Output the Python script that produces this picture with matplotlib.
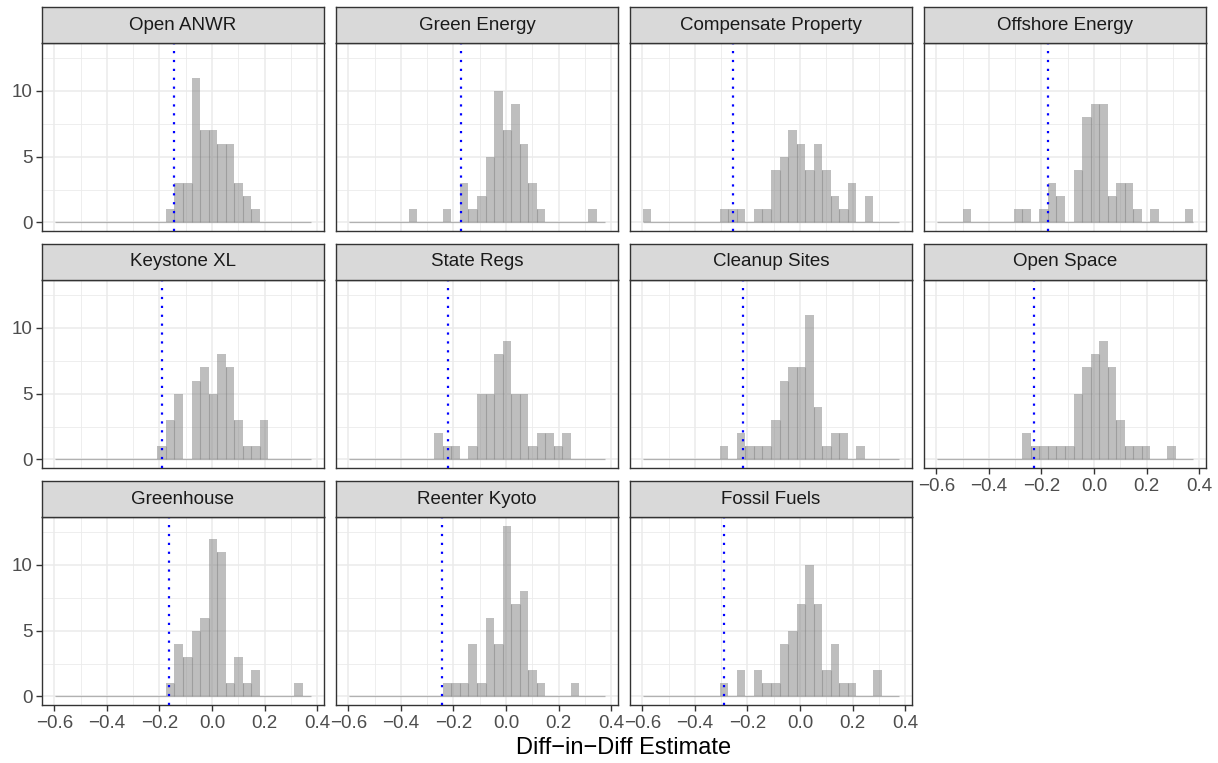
import matplotlib
matplotlib.use("Agg")
import matplotlib.pyplot as plt
import numpy as np

plt.rcParams['font.family'] = ['Liberation Sans', 'DejaVu Sans']

# ---------------- data ----------------
facets = ["Open ANWR", "Green Energy", "Compensate Property", "Offshore Energy",
          "Keystone XL", "State Regs", "Cleanup Sites", "Open Space",
          "Greenhouse", "Reenter Kyoto", "Fossil Fuels"]

bin_start = -0.598
bin_width = 0.0325
n_bins = 30

counts_open_anwr = [0,0,0,0,0,0,0,0,0,0, 0,0,0,1,3,3,11,7,7,6, 6,3,2,1,0,0,0,0,0,0]
counts_green_energy = [0,0,0,0,0,0,0,1,0,0, 0,1,0,3,1,2,5,10,7,9, 6,3,1,0,0,0,0,0,1,0]
counts_compensate = [1,0,0,0,0,0,0,0,0,1, 1,1,0,1,1,4,5,7,6,4, 6,4,2,1,3,0,2,0,0,0]
counts_offshore = [0,0,0,1,0,0,0,0,0,1, 1,0,1,3,2,0,4,8,9,9, 2,3,3,1,0,1,0,0,0,1]
counts_keystone = [0,0,0,0,0,0,0,0,0,0, 0,0,1,3,5,0,6,7,5,8, 7,3,1,1,3,0,0,0,0,0]
counts_state_regs = [0,0,0,0,0,0,0,0,0,0, 2,1,1,0,1,5,5,8,9,5, 5,1,2,2,1,2,0,0,0,0]
counts_cleanup = [0,0,0,0,0,0,0,0,0,1, 0,2,1,1,1,3,6,7,7,11, 4,1,2,2,0,1,0,0,0,0]
counts_open_space = [0,0,0,0,0,0,0,0,0,0, 2,1,1,1,1,1,5,7,8,9, 7,3,1,1,1,0,0,1,0,0]
counts_greenhouse = [0,0,0,0,0,0,0,0,0,0, 0,0,0,1,4,3,5,6,12,11, 1,3,1,2,0,0,0,0,1,0]
counts_kyoto = [0,0,0,0,0,0,0,0,0,0, 0,1,1,1,4,1,6,4,13,7, 8,2,1,0,0,0,1,0,0,0]
counts_fossil = [0,0,0,0,0,0,0,0,0,1, 0,2,0,2,1,1,4,5,7,10, 7,2,4,1,1,0,0,2,0,0]

all_counts = [counts_open_anwr, counts_green_energy, counts_compensate, counts_offshore,
              counts_keystone, counts_state_regs, counts_cleanup, counts_open_space,
              counts_greenhouse, counts_kyoto, counts_fossil]

observed = [-0.145, -0.171, -0.256, -0.175, -0.190, -0.220, -0.218, -0.229,
            -0.162, -0.242, -0.288]

x_ticks = [-0.6, -0.4, -0.2, 0.0, 0.2, 0.4]
y_ticks = [0, 5, 10]
x_title = "Diff\u2212in\u2212Diff Estimate"

# ---------------- layout ----------------
W, H = 1218, 763
fig = plt.figure(figsize=(W / 100, H / 100), dpi=100)

panel_w, panel_h, strip_h = 282, 188, 36
col_left = [42, 336, 630, 924]
row_panel_top = [43, 280, 517]

edges = bin_start + bin_width * np.arange(n_bins + 1)
xlim = (-0.647, 0.426)
ylim = (-0.65, 13.65)

border_col = '#333333'
grid_col = '#EBEBEB'
text_col = '#4D4D4D'

for i, name in enumerate(facets):
    r, c = divmod(i, 4)
    left = col_left[c] / W
    bottom = 1 - (row_panel_top[r] + panel_h) / H
    ax = fig.add_axes([left, bottom, panel_w / W, panel_h / H])
    counts = np.array(all_counts[i])

    ax.set_xlim(*xlim)
    ax.set_ylim(*ylim)
    # grid
    for v in [-0.5, -0.3, -0.1, 0.1, 0.3]:
        ax.axvline(v, color=grid_col, lw=0.6, zorder=0)
    for v in [2.5, 7.5, 12.5]:
        ax.axhline(v, color=grid_col, lw=0.6, zorder=0)
    for v in x_ticks:
        ax.axvline(v, color=grid_col, lw=1.15, zorder=0)
    for v in y_ticks:
        ax.axhline(v, color=grid_col, lw=1.15, zorder=0)

    # baseline for zero bins
    ax.hlines(0, edges[0], edges[-1], color='#7F7F7F', alpha=0.55, lw=0.9, zorder=1)
    # bars
    ax.bar(edges[:-1], counts, width=bin_width, align='edge', color='#7F7F7F',
           alpha=0.5, linewidth=0, zorder=2)
    # overlap lines between adjacent bars
    for k in range(1, n_bins):
        h = min(counts[k - 1], counts[k])
        if h > 0:
            ax.vlines(edges[k], 0, h, color='#7F7F7F', alpha=0.5, lw=0.8, zorder=3)

    ax.axvline(observed[i], color='#0000FF', lw=1.6, linestyle=(0, (1, 3)), zorder=4)

    for s in ax.spines.values():
        s.set_color(border_col)
        s.set_linewidth(1.0)

    ax.set_xticks(x_ticks)
    ax.set_yticks(y_ticks)
    show_x = (r == 2) or (r == 1 and c == 3)
    show_y = (c == 0)
    ax.set_xticklabels([f"{v:.1f}".replace('-', '\u2212') for v in x_ticks] if show_x else [])
    ax.set_yticklabels([str(v) for v in y_ticks] if show_y else [])
    ax.tick_params(axis='x', length=4 if show_x else 0, width=1.0, color=border_col,
                   labelsize=13.5, labelcolor=text_col, pad=3)
    ax.tick_params(axis='y', length=4 if show_y else 0, width=1.0, color=border_col,
                   labelsize=13.5, labelcolor=text_col, pad=3)

    # strip
    sax = fig.add_axes([left, 1 - row_panel_top[r] / H, panel_w / W, strip_h / H])
    sax.set_facecolor('#D9D9D9')
    sax.set_xticks([])
    sax.set_yticks([])
    for s in sax.spines.values():
        s.set_color(border_col)
        s.set_linewidth(1.0)
    sax.text(0.5, 0.5, name, ha='center', va='center', fontsize=13.5,
             color='#1A1A1A', transform=sax.transAxes)

fig.text(624 / W, 1 - 748 / H, x_title, ha='center', va='center', fontsize=17, color='black')

fig.savefig("out.png", dpi=100, facecolor='white')
